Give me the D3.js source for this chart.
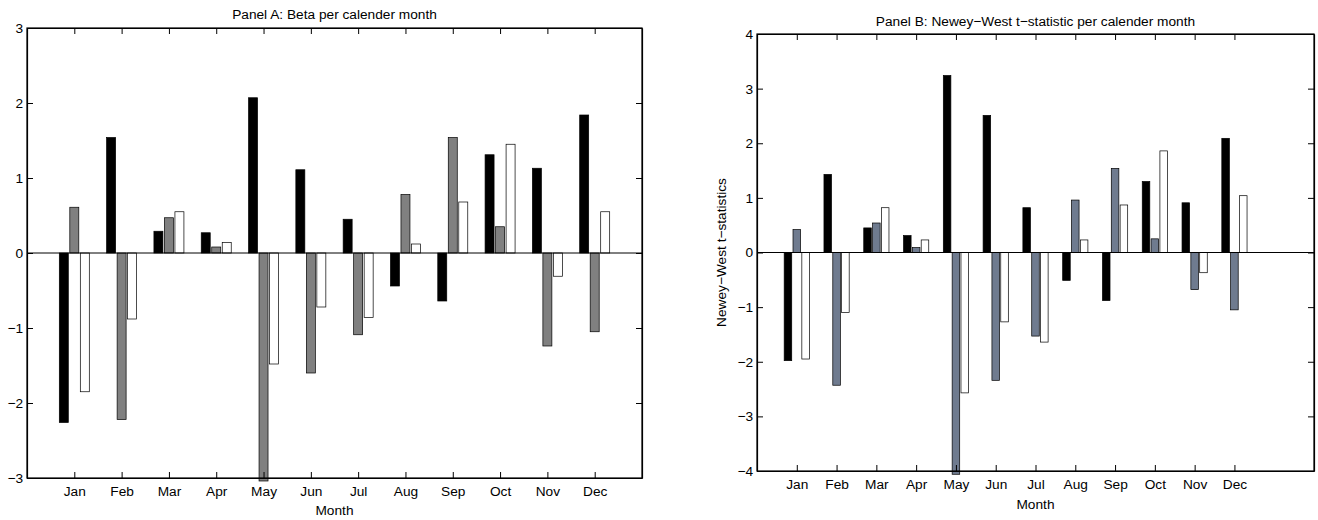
<!DOCTYPE html>
<html>
<head>
<meta charset="utf-8">
<script src="https://cdn.jsdelivr.net/npm/d3@7"></script>
<style>
  body { margin: 0; background: #fff; }
  svg text { font-family: "Liberation Sans", Arial, sans-serif; fill: #000; }
</style>
</head>
<body>
<svg id="chart" width="1318" height="520"></svg>
<script>
const months = ["Jan","Feb","Mar","Apr","May","Jun","Jul","Aug","Sep","Oct","Nov","Dec"]

// Panel A: beta per calendar month, three series
const betaA1 = [-2.26, 1.54, 0.29, 0.27, 2.07, 1.11, 0.45, -0.44, -0.64, 1.31, 1.13, 1.84]
const betaA2 = [0.61, -2.22, 0.47, 0.08, -3.04, -1.60, -1.09, 0.78, 1.54, 0.35, -1.24, -1.05]
const betaA3 = [-1.85, -0.88, 0.55, 0.14, -1.48, -0.72, -0.86, 0.12, 0.68, 1.45, -0.31, 0.55]
const ticksA = [-3, -2, -1, 0, 1, 2, 3]

// Panel B: Newey-West t-statistics
const tstatB1 = [-1.98, 1.43, 0.45, 0.31, 3.24, 2.51, 0.82, -0.51, -0.88, 1.30, 0.91, 2.09]
const tstatB2 = [0.42, -2.43, 0.54, 0.09, -4.06, -2.34, -1.53, 0.96, 1.54, 0.25, -0.68, -1.05]
const tstatB3 = [-1.95, -1.10, 0.82, 0.23, -2.57, -1.27, -1.64, 0.23, 0.87, 1.86, -0.37, 1.04]
const ticksB = [-4, -3, -2, -1, 0, 1, 2, 3, 4]

const svg = d3.select("#chart")
const fontSize = "13.7px"
const minus = s => String(s).replace("-", "\u2212")

function drawPanel(p) {
    const g = svg.append("g")

    const x = d3.scaleLinear().domain([0, p.xMax]).range([p.left, p.right])
    const y = d3.scaleLinear().domain([p.ticks[0], p.ticks[p.ticks.length - 1]]).range([p.bottom, p.top])

    // bars, grouped like matlab's bar()
    const offsets = [-0.222, 0, 0.222]
    const bw = x(0.19) - x(0)
    p.series.forEach((vals, si) => {
        g.selectAll(".bar" + si)
            .data(vals)
            .enter()
            .append("rect")
            .attr("x", (d, i) => x(i + 1 + offsets[si]) - bw / 2)
            .attr("y", d => y(Math.max(0, d)))
            .attr("width", bw)
            .attr("height", d => Math.abs(y(d) - y(0)))
            .style("fill", p.colors[si])
            .style("stroke", "#000")
            .style("stroke-width", 0.7)
    })

    // zero baseline
    g.append("line")
        .attr("x1", p.left).attr("x2", p.right)
        .attr("y1", y(0)).attr("y2", y(0))
        .style("stroke", "#000").style("stroke-width", 1)

    // axes with inward ticks on all four sides
    const monthIdx = months.map((m, i) => i + 1)
    const tl = 6
    g.append("g")
        .attr("transform", `translate(0,${p.bottom})`)
        .call(d3.axisBottom(x).tickValues(monthIdx).tickSizeInner(-tl).tickSizeOuter(0).tickPadding(8).tickFormat(d => months[d - 1]))
    g.append("g")
        .attr("transform", `translate(0,${p.top})`)
        .call(d3.axisTop(x).tickValues(monthIdx).tickSizeInner(-tl).tickSizeOuter(0).tickFormat(""))
    g.append("g")
        .attr("transform", `translate(${p.left},0)`)
        .call(d3.axisLeft(y).tickValues(p.ticks).tickSizeInner(-tl).tickSizeOuter(0).tickPadding(4).tickFormat(minus))
    g.append("g")
        .attr("transform", `translate(${p.right},0)`)
        .call(d3.axisRight(y).tickValues(p.ticks).tickSizeInner(-tl).tickSizeOuter(0).tickFormat(""))

    g.selectAll(".domain").style("stroke", "#000").style("stroke-width", 1.2)
    g.selectAll(".tick line").style("stroke", "#000")
    g.selectAll(".tick text").style("font-size", fontSize).style("font-family", "Liberation Sans, Arial, sans-serif")

    // frame
    g.append("rect")
        .attr("x", p.left).attr("y", p.top)
        .attr("width", p.right - p.left).attr("height", p.bottom - p.top)
        .style("fill", "none").style("stroke", "#000").style("stroke-width", 1.2)

    g.append("text")
        .attr("x", (p.left + p.right) / 2).attr("y", p.titleY)
        .attr("text-anchor", "middle").style("font-size", fontSize)
        .text(p.title)

    g.append("text")
        .attr("x", (p.left + p.right) / 2).attr("y", p.labelY)
        .attr("text-anchor", "middle").style("font-size", fontSize)
        .text("Month")

    if (p.yLabel) {
        g.append("text")
            .attr("transform", `translate(${p.yLabelX},${(p.top + p.bottom) / 2}) rotate(-90)`)
            .attr("text-anchor", "middle").style("font-size", fontSize)
            .text(p.yLabel)
    }
}

drawPanel({
    left: 27, right: 642, top: 28, bottom: 478, xMax: 13,
    ticks: ticksA,
    series: [betaA1, betaA2, betaA3],
    colors: ["#000000", "#808080", "#ffffff"],
    title: "Panel A: Beta per calender month",
    titleY: 19, labelY: 515
})

drawPanel({
    left: 757, right: 1314, top: 34, bottom: 471, xMax: 14,
    ticks: ticksB,
    series: [tstatB1, tstatB2, tstatB3],
    colors: ["#000000", "#6f7b8f", "#ffffff"],
    title: "Panel B: Newey\u2212West t\u2212statistic per calender month",
    titleY: 26, labelY: 509,
    yLabel: "Newey\u2212West t\u2212statistics", yLabelX: 726
})
</script>
</body>
</html>
